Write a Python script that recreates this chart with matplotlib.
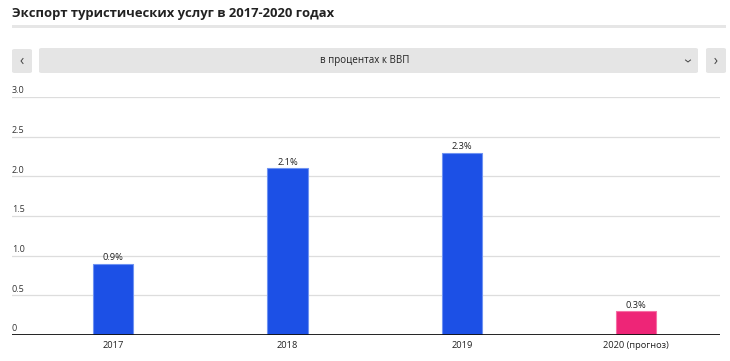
import matplotlib.pyplot as plt
from matplotlib.patches import FancyBboxPatch, Rectangle
from matplotlib.lines import Line2D
from matplotlib.transforms import blended_transform_factory

years = ["2017", "2018", "2019", "2020 (прогноз)"]
values = [0.9, 2.1, 2.3, 0.3]
labels = ["0.9%", "2.1%", "2.3%", "0.3%"]
bar_colors = ["#1c50e6", "#1c50e6", "#1c50e6", "#ee2577"]
edge_colors = ["#6f93f2", "#6f93f2", "#6f93f2", "#f56fa5"]
yticks = [0, 0.5, 1.0, 1.5, 2.0, 2.5, 3.0]
ytick_labels = ["0", "0.5", "1.0", "1.5", "2.0", "2.5", "3.0"]

W, H = 730, 361
fig = plt.figure(figsize=(W / 100, H / 100), dpi=100)
plt.rcParams['font.family'] = ['Open Sans', 'DejaVu Sans']


def fx(px):
    return px / W


def fy(py):
    return 1 - py / H


# title and underline
fig.text(fx(12), fy(13), "Экспорт туристических услуг в 2017-2020 годах",
         fontsize=9.4, fontweight='bold', color='#222222', va='center', ha='left')
fig.patches.append(Rectangle((fx(12), fy(28)), fx(714), 3 / H, transform=fig.transFigure,
                             facecolor='#e6e6e6', edgecolor='none'))

# selector bar with buttons
def box(x0, y0, x1, y1):
    p = FancyBboxPatch((fx(x0), fy(y1)), fx(x1 - x0), (y1 - y0) / H,
                       boxstyle="round,pad=0,rounding_size=0.004",
                       transform=fig.transFigure, facecolor='#e5e5e5', edgecolor='none')
    fig.patches.append(p)

box(12, 49, 32, 73)
box(39, 48, 698, 73)
box(706, 48, 726, 73)

def chevron(pts):
    fig.lines.append(Line2D([fx(p[0]) for p in pts], [fy(p[1]) for p in pts],
                            transform=fig.transFigure, color='#444444', linewidth=0.7))

chevron([(23, 58.5), (21, 61), (23, 63.5)])
chevron([(715, 58.5), (717, 61), (715, 63.5)])
chevron([(685.5, 60), (688, 62), (690.5, 60)])
fig.text(fx(365), fy(61), "в процентах к ВВП", fontsize=7, color='#222222', ha='center', va='center')

# chart
ax = fig.add_axes([fx(12), 26 / H, fx(708), (335 - 97) / H])
x = list(range(len(years)))
ax.bar(x, values, width=0.23, color=bar_colors, edgecolor=edge_colors, linewidth=0.8, zorder=3)
ax.set_xlim(-0.58, 3.48)
ax.set_ylim(0, 3.0)
for v in yticks[1:]:
    ax.axhline(v, color='#dddddd', linewidth=0.9, zorder=1)
ax.axhline(0, color='#111111', linewidth=1.3, zorder=4)

trans = blended_transform_factory(ax.transAxes, ax.transData)
for v, t in zip(yticks, ytick_labels):
    ax.text(0.0, v + 0.02, t, transform=trans, fontsize=6.5, color='#333333',
            ha='left', va='bottom')

for xi, v, t in zip(x, values, labels):
    ax.text(xi, v + 0.02, t, fontsize=6.7, color='#222222', ha='center', va='bottom', zorder=5)

ax.set_xticks(x)
ax.set_xticklabels(years, fontsize=6.7, color='#222222')
ax.tick_params(axis='x', length=0, pad=4)
ax.set_yticks([])
for spine in ax.spines.values():
    spine.set_visible(False)

fig.savefig("out.png", dpi=100)
